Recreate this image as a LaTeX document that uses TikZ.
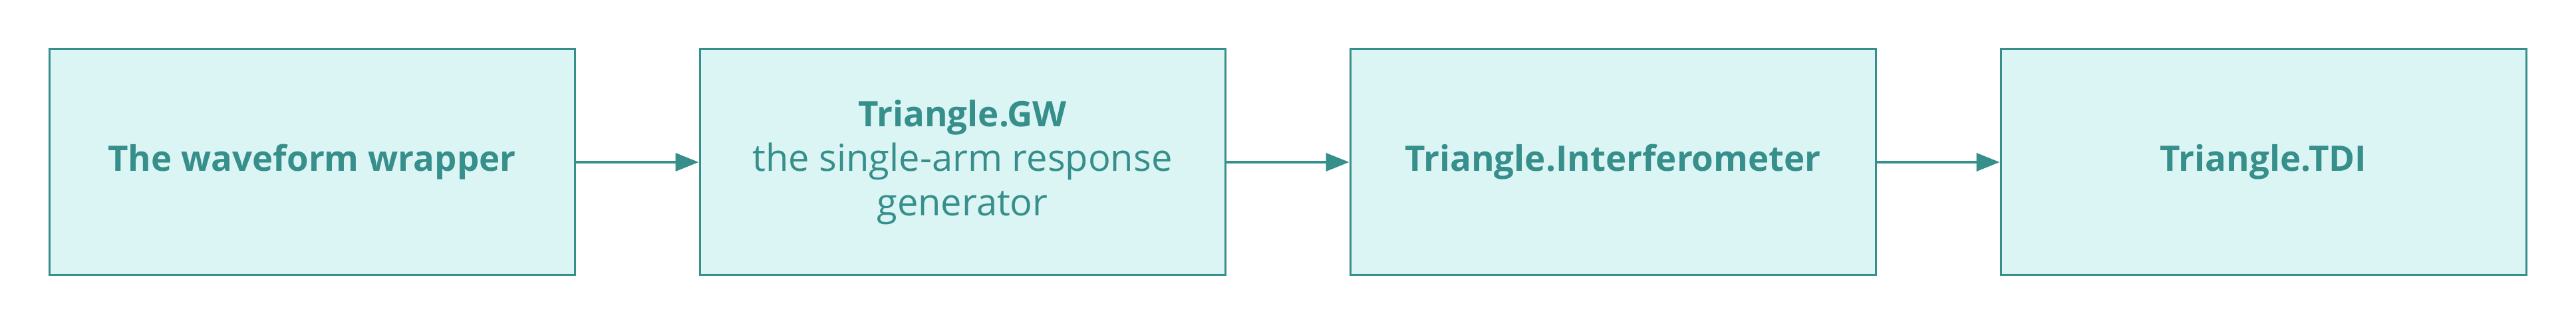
\documentclass[tikz,border=0pt]{standalone}
\usepackage{fontspec}
\setmainfont{Open Sans}
\usetikzlibrary{positioning}
\usetikzlibrary{arrows.meta}
\definecolor{tealline}{HTML}{368F8B}
\definecolor{tealfill}{HTML}{DBF4F4}
\tikzset{
    stage/.style={
        draw=tealline,
        fill=tealfill,
        line width=0.75pt,
        minimum width=197.5pt,
        minimum height=85pt,
        inner sep=0pt,
        align=center,
        text=tealline,
        font=\fontsize{14}{16.75}\selectfont
    },
    flow/.style={
        draw=tealline,
        line width=1pt,
        -{Triangle[length=8.75pt,width=6.75pt]}
    }
}
\newcommand{\stagetitle}[1]{{\fontsize{13.2}{16.75}\selectfont\bfseries #1}}

\begin{document}
\begin{tikzpicture}
		\useasboundingbox (0,0) rectangle (968.25pt,122.25pt);

		% pipeline stages
		\node[stage] (wrapper) at (117.25pt,61.25pt) {\stagetitle{The waveform wrapper}};
		\node[stage, right=46.25pt of wrapper] (gw) {\stagetitle{Triangle.GW}\\the single-arm response\\generator};
		\node[stage, right=46.25pt of gw] (ifo) {\stagetitle{Triangle.Interferometer}};
		\node[stage, right=46.25pt of ifo] (tdi) {\stagetitle{Triangle.TDI}};

		% data flow
		\draw[flow] (wrapper) -- (gw);
		\draw[flow] (gw) -- (ifo);
		\draw[flow] (ifo) -- (tdi);

	\end{tikzpicture}
\end{document}
